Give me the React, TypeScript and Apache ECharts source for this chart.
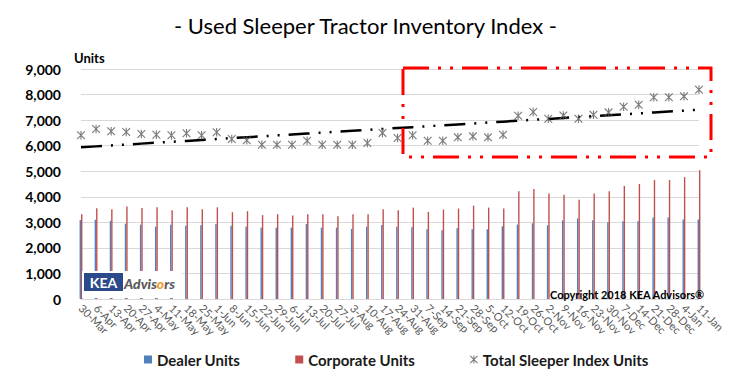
import React, { useEffect, useRef } from "react";
import * as echarts from "echarts";

const categories = [
  "30-Mar", "6-Apr", "13-Apr", "20-Apr", "27-Apr", "4-May", "11-May", "18-May", "25-May", "1-Jun",
  "8-Jun", "15-Jun", "22-Jun", "29-Jun", "6-Jul", "13-Jul", "20-Jul", "27-Jul", "3-Aug", "10-Aug",
  "17-Aug", "24-Aug", "31-Aug", "7-Sep", "14-Sep", "21-Sep", "28-Sep", "5-Oct", "12-Oct", "19-Oct",
  "26-Oct", "2-Nov", "9-Nov", "16-Nov", "23-Nov", "30-Nov", "7-Dec", "14-Dec", "21-Dec", "28-Dec",
  "4-Jan", "11-Jan",
];

const dealerUnits = [
  3088, 3100, 3062, 2946, 2908, 2831, 2908, 2869, 2890, 2930,
  2869, 2831, 2792, 2792, 2792, 2935, 2792, 2792, 2742, 2831,
  2896, 2830, 2808, 2731, 2692, 2769, 2731, 2731, 2846, 2910,
  2962, 2885, 3077, 3154, 3077, 3000, 3038, 3038, 3192, 3192,
  3115, 3115,
];

const corporateUnits = [
  3319, 3550, 3512, 3615, 3562, 3588, 3473, 3588, 3512, 3588,
  3396, 3435, 3281, 3319, 3269, 3319, 3319, 3242, 3319, 3319,
  3512, 3470, 3577, 3410, 3500, 3538, 3654, 3577, 3538, 4218,
  4308, 4128, 4077, 3885, 4128, 4218, 4423, 4500, 4654, 4654,
  4769, 5038,
];

const totalUnits = [
  6405, 6651, 6561, 6534, 6455, 6429, 6405, 6483, 6405, 6522,
  6260, 6209, 6037, 6037, 6037, 6194, 6037, 6037, 6037, 6103,
  6500, 6300, 6405, 6194, 6194, 6325, 6364, 6325, 6429, 7172,
  7316, 7055, 7185, 7055, 7211, 7303, 7524, 7602, 7891, 7891,
  7930, 8190,
];

const seriesNames = ["Dealer Units", "Corporate Units", "Total Sleeper Index Units"];

// linear trendline (least squares) of the total series
function linearTrend(values: number[]): number[] {
  const n = values.length;
  const xm = (n - 1) / 2;
  const ym = values.reduce((a, b) => a + b, 0) / n;
  let sxy = 0;
  let sxx = 0;
  values.forEach((v, i) => {
    sxy += (i - xm) * (v - ym);
    sxx += (i - xm) * (i - xm);
  });
  const slope = sxy / sxx;
  return values.map((_, i) => ym + slope * (i - xm));
}

const STAR =
  "path://M4.35,0 L5.65,0 L5.65,10 L4.35,10 Z M0.92,0 L10,9.08 L9.08,10 L0,0.92 Z M9.08,0 L10,0.92 L0.92,10 L0,9.08 Z";

const FONT = "Lato, 'Open Sans', sans-serif";

export default function App() {
  const ref = useRef<HTMLDivElement>(null);

  useEffect(() => {
    if (!ref.current) return;
    const chart = echarts.init(ref.current, undefined, { renderer: "svg" });
    const trend = linearTrend(totalUnits);

    chart.setOption({
      animation: false,
      backgroundColor: "#ffffff",
      textStyle: { fontFamily: FONT },
      title: {
        text: "- Used Sleeper Tractor Inventory Index -",
        left: "center",
        top: 9,
        textStyle: { fontFamily: FONT, fontSize: 22, fontWeight: "normal", color: "#000000" },
      },
      grid: { left: 81, right: 32, top: 69, bottom: 75, containLabel: false },
      legend: {
        left: 139,
        top: 347,
        itemGap: 55,
        itemWidth: 8,
        itemHeight: 8,
        textStyle: { fontFamily: FONT, fontSize: 15, fontWeight: "bold", color: "#1a1a1a" },
        data: [
          { name: seriesNames[0], icon: "rect" },
          { name: seriesNames[1], icon: "rect" },
          { name: seriesNames[2], icon: STAR },
        ],
      },
      xAxis: {
        type: "category",
        data: categories,
        boundaryGap: false,
        axisTick: { show: false },
        axisLine: { lineStyle: { color: "#d9d9d9" } },
        axisLabel: {
          interval: 0,
          rotate: -45,
          margin: 7,
          fontFamily: FONT,
          fontSize: 11,
          color: "#595959",
        },
      },
      yAxis: {
        type: "value",
        min: 0,
        max: 9000,
        interval: 1000,
        axisLine: { show: false },
        axisTick: { show: false },
        splitLine: { lineStyle: { color: "#d9d9d9", width: 1 } },
        axisLabel: {
          margin: 20,
          fontFamily: FONT,
          fontSize: 14,
          fontWeight: "bold",
          color: "#000000",
          formatter: (v: number) => v.toLocaleString("en-US"),
        },
      },
      series: [
        {
          name: seriesNames[0],
          type: "bar",
          data: dealerUnits,
          barWidth: 1.4,
          barGap: "0%",
          itemStyle: { color: "#4f81bd" },
        },
        {
          name: seriesNames[1],
          type: "bar",
          data: corporateUnits,
          barWidth: 1.4,
          barGap: "0%",
          itemStyle: { color: "#c0504d" },
        },
        {
          name: "Trend",
          type: "line",
          data: trend,
          symbol: "none",
          z: 4,
          lineStyle: { color: "#000000", width: 2.5, type: [21, 9, 2, 9, 2, 9] },
        },
        {
          name: seriesNames[2],
          type: "scatter",
          data: totalUnits,
          symbol: STAR,
          symbolSize: 8.5,
          z: 5,
          itemStyle: { color: "#595959" },
        },
      ],
      graphic: [
        {
          type: "text",
          left: 74,
          top: 51,
          z: 100,
          style: { text: "Units", fontFamily: FONT, fontSize: 13, fontWeight: "bold", fill: "#000000" },
        },
        {
          type: "rect",
          z: 100,
          shape: { x: 403, y: 68, width: 308, height: 89 },
          style: { fill: "none", stroke: "#ff0000", lineWidth: 3, lineDash: [26, 9, 3, 9, 3, 9] },
        },
        {
          type: "rect",
          z: 100,
          shape: { x: 82, y: 271, width: 100, height: 27 },
          style: { fill: "#ffffff" },
        },
        {
          type: "rect",
          z: 101,
          shape: { x: 84, y: 273, width: 39, height: 18 },
          style: { fill: "#2b4a8b" },
        },
        {
          type: "text",
          z: 102,
          x: 103.5,
          y: 282,
          style: {
            text: "KEA",
            fontFamily: FONT,
            fontSize: 14,
            fontWeight: "bold",
            fill: "#ffffff",
            align: "center",
            verticalAlign: "middle",
          },
        },
        {
          type: "text",
          z: 102,
          x: 124,
          y: 283,
          style: {
            text: "{a|Advis}{b|o}{a|rs}",
            verticalAlign: "middle",
            rich: {
              a: { fontFamily: FONT, fontSize: 14, fontWeight: 900, fontStyle: "italic", fill: "#595959" },
              b: { fontFamily: FONT, fontSize: 14, fontWeight: 900, fontStyle: "italic", fill: "#f39a1f" },
            },
          },
        },
        {
          type: "text",
          z: 102,
          x: 550,
          y: 289,
          style: {
            text: "Copyright 2018 KEA Advisors®",
            fontFamily: FONT,
            fontSize: 11,
            fontWeight: "bold",
            fill: "#000000",
          },
        },
      ],
    });

    return () => chart.dispose();
  }, []);

  return (
    <div
      ref={ref}
      style={{ position: "fixed", left: 0, top: 0, width: 731, height: 374 }}
    />
  );
}
